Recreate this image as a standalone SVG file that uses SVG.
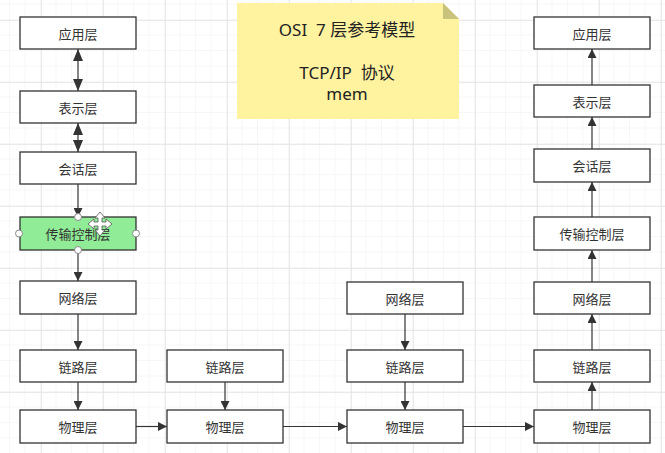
<svg xmlns="http://www.w3.org/2000/svg" width="665" height="453" viewBox="0 0 665 453">
<defs>
<pattern id="minor" width="15.5" height="15.5" patternUnits="userSpaceOnUse" x="10" y="4.5">
<path d="M15.5 0V15.5M0 15.5H15.5" fill="none" stroke="#efefef" stroke-width="1"/>
</pattern>
<pattern id="major" width="62" height="62" patternUnits="userSpaceOnUse" x="41" y="20">
<path d="M0 0V62M0 0H62" fill="none" stroke="#e4e4e4" stroke-width="1.5"/>
</pattern>
<marker id="ah" viewBox="0 0 10 10" refX="10" refY="5" markerWidth="9" markerHeight="9" markerUnits="userSpaceOnUse" orient="auto">
<path d="M0 0L10 5L0 10Z" fill="#333"/>
</marker>
<marker id="bh" viewBox="0 0 12 10" refX="12" refY="5" markerWidth="13" markerHeight="10" markerUnits="userSpaceOnUse" orient="auto">
<path d="M0 0L12 5L0 10Z" fill="#333"/>
</marker>
<marker id="bs" viewBox="0 0 12 10" refX="0" refY="5" markerWidth="13" markerHeight="10" markerUnits="userSpaceOnUse" orient="auto">
<path d="M12 0L0 5L12 10Z" fill="#333"/>
</marker>
</defs>
<style>
.box{fill:#fff;stroke:#333;stroke-width:1.3}
.green{fill:#90ec96}
.lbl{font-family:"Noto Sans CJK SC","Noto Sans",sans-serif;font-size:13px;fill:#333;text-anchor:middle;dominant-baseline:central}
.c{fill:none;stroke:#333;stroke-width:1.2}
.note{font-family:"Noto Sans","Noto Sans CJK SC",sans-serif;font-size:17px;fill:#222;text-anchor:middle}
</style>
<rect width="665" height="453" fill="#fff"/>
<rect width="665" height="453" fill="url(#minor)"/>
<rect width="665" height="453" fill="url(#major)"/>

<g id="note">
<path d="M237 3H443L459 19V119H237Z" fill="#fff3a0"/>
<path d="M443 3L459 19H443Z" fill="#c9c27c"/>
<text class="note" x="347" y="36">OSI&#160; 7 层参考模型</text>
<text class="note" x="347" y="79">TCP/IP&#160; 协议</text>
<text class="note" x="347" y="100">mem</text>
</g>

<g id="connectors">
<line class="c" x1="78" y1="49" x2="78" y2="91" marker-start="url(#bs)" marker-end="url(#bh)"/>
<line class="c" x1="78" y1="123" x2="78" y2="152" marker-start="url(#bs)" marker-end="url(#bh)"/>
<line class="c" x1="78" y1="184" x2="78" y2="217" marker-end="url(#ah)"/>
<line class="c" x1="78" y1="250" x2="78" y2="281" marker-end="url(#ah)"/>
<line class="c" x1="78" y1="314" x2="78" y2="350" marker-end="url(#ah)"/>
<line class="c" x1="78" y1="382" x2="78" y2="410" marker-end="url(#ah)"/>
<line class="c" x1="136" y1="426.5" x2="167" y2="426.5" marker-end="url(#ah)"/>
<line class="c" x1="225" y1="382" x2="225" y2="410" marker-end="url(#ah)"/>
<line class="c" x1="283" y1="426.5" x2="347" y2="426.5" marker-end="url(#ah)"/>
<line class="c" x1="405" y1="314" x2="405" y2="350" marker-end="url(#ah)"/>
<line class="c" x1="405" y1="382" x2="405" y2="410" marker-end="url(#ah)"/>
<line class="c" x1="463" y1="426.5" x2="534" y2="426.5" marker-end="url(#ah)"/>
<line class="c" x1="592" y1="410" x2="592" y2="382" marker-end="url(#ah)"/>
<line class="c" x1="592" y1="350" x2="592" y2="314" marker-end="url(#ah)"/>
<line class="c" x1="592" y1="282" x2="592" y2="250" marker-end="url(#ah)"/>
<line class="c" x1="592" y1="217" x2="592" y2="182" marker-end="url(#ah)"/>
<line class="c" x1="592" y1="149" x2="592" y2="117" marker-end="url(#ah)"/>
<line class="c" x1="592" y1="85" x2="592" y2="49" marker-end="url(#ah)"/>
</g>

<g id="l-app"><rect class="box" x="20" y="17" width="116" height="32"/><text class="lbl" x="78" y="33">应用层</text></g>
<g id="l-pres"><rect class="box" x="20" y="91" width="116" height="32"/><text class="lbl" x="78" y="107">表示层</text></g>
<g id="l-sess"><rect class="box" x="20" y="152" width="116" height="32"/><text class="lbl" x="78" y="168">会话层</text></g>
<g id="l-trans"><rect class="box green" x="20" y="217" width="116" height="33"/><text class="lbl" x="78" y="233.5">传输控制层</text>
<g fill="#fff" stroke="#888" stroke-width="1"><circle cx="78" cy="217" r="3.5"/><circle cx="78" cy="250" r="3.5"/><circle cx="19" cy="233.5" r="3.5"/><circle cx="136" cy="233.5" r="3.5"/></g>
<path d="M100 212L105 218H102V222H106V219L112 224L106 229V226H102V230H105L100 236L95 230H98V226H94V229L88 224L94 219V222H98V218H95Z" fill="#fff" stroke="#555" stroke-width="0.8"/>
</g>
<g id="l-net"><rect class="box" x="20" y="281" width="116" height="33"/><text class="lbl" x="78" y="297.5">网络层</text></g>
<g id="l-link"><rect class="box" x="20" y="350" width="116" height="32"/><text class="lbl" x="78" y="366">链路层</text></g>
<g id="l-phy"><rect class="box" x="20" y="410" width="116" height="33"/><text class="lbl" x="78" y="426.5">物理层</text></g>

<g id="s1-link"><rect class="box" x="167" y="350" width="116" height="32"/><text class="lbl" x="225" y="366">链路层</text></g>
<g id="s1-phy"><rect class="box" x="167" y="410" width="116" height="33"/><text class="lbl" x="225" y="426.5">物理层</text></g>

<g id="r-net"><rect class="box" x="347" y="282" width="116" height="32"/><text class="lbl" x="405" y="298">网络层</text></g>
<g id="r-link"><rect class="box" x="347" y="350" width="116" height="32"/><text class="lbl" x="405" y="366">链路层</text></g>
<g id="r-phy"><rect class="box" x="347" y="410" width="116" height="33"/><text class="lbl" x="405" y="426.5">物理层</text></g>

<g id="d-app"><rect class="box" x="534" y="17" width="116" height="32"/><text class="lbl" x="592" y="33">应用层</text></g>
<g id="d-pres"><rect class="box" x="534" y="85" width="116" height="32"/><text class="lbl" x="592" y="101">表示层</text></g>
<g id="d-sess"><rect class="box" x="534" y="149" width="116" height="33"/><text class="lbl" x="592" y="165.5">会话层</text></g>
<g id="d-trans"><rect class="box" x="534" y="217" width="116" height="33"/><text class="lbl" x="592" y="233.5">传输控制层</text></g>
<g id="d-net"><rect class="box" x="534" y="282" width="116" height="32"/><text class="lbl" x="592" y="298">网络层</text></g>
<g id="d-link"><rect class="box" x="534" y="350" width="116" height="32"/><text class="lbl" x="592" y="366">链路层</text></g>
<g id="d-phy"><rect class="box" x="534" y="410" width="116" height="33"/><text class="lbl" x="592" y="426.5">物理层</text></g>
</svg>
